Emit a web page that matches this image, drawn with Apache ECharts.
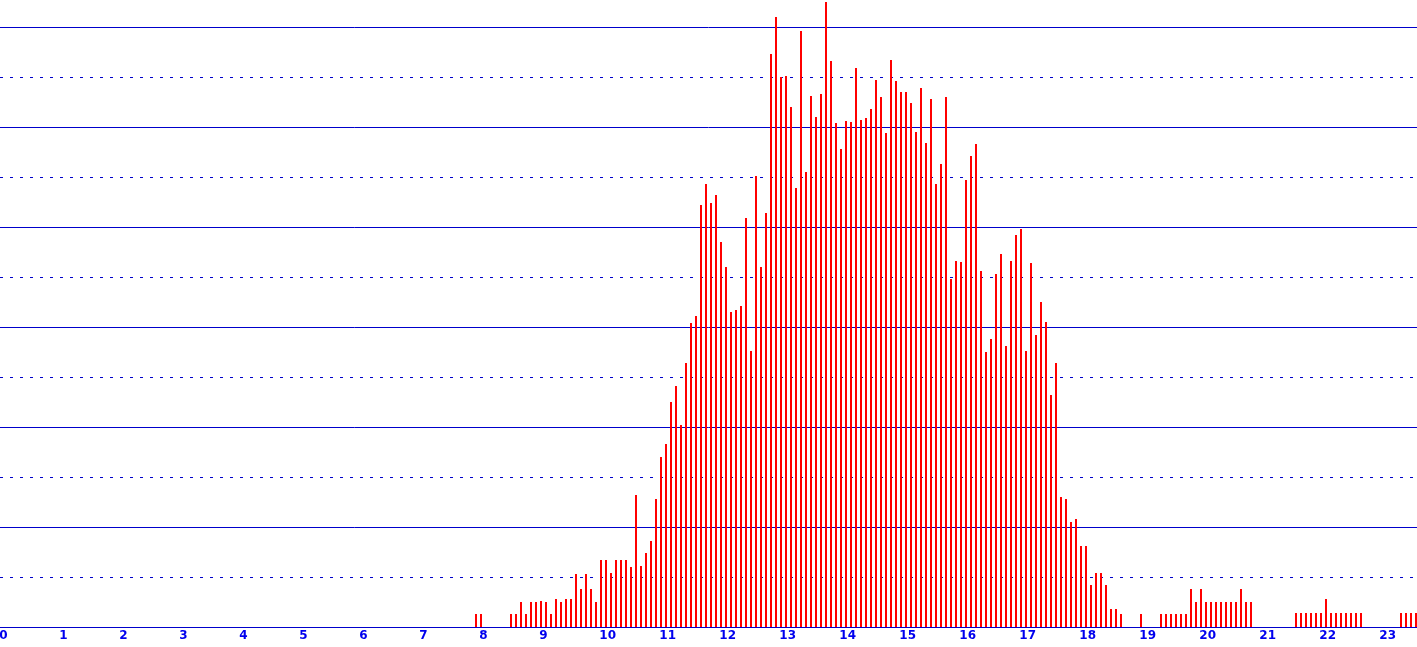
<!DOCTYPE html>
<html>
<head>
<meta charset="utf-8">
<script src="https://cdn.jsdelivr.net/npm/echarts@6/dist/echarts.min.js"></script>
<style>
html,body{margin:0;padding:0;background:#fff;}
#chart{width:1417px;height:647px;}
</style>
</head>
<body>
<div id="chart"></div>
<script>
// Histogram: bin width 1/12, first bin index 94 (x = 94/12)
const binWidth = 1 / 12;
const firstBin = 94;
const counts = [
  13, 13, 0, 0, 0, 0, 0, 13, 13, 25, 13, 25, 25, 26, 25, 13,            // 94-109
  28, 25, 28, 28, 53, 38, 53, 38, 25, 67, 67, 54, 67, 67, 67, 60,       // 110-125
  132, 61, 74, 86, 128, 170, 183, 225, 241, 202, 264, 304, 311, 422,    // 126-139
  443, 424, 432, 385, 360, 315, 317, 321, 409, 276, 451, 360, 414, 573, // 140-153
  610, 550, 551, 520, 439, 596, 455, 531, 510, 533, 625, 566, 504, 478, // 154-167
  506, 505, 559, 507, 509, 518, 547, 530, 494, 567, 546, 535, 535, 524, // 168-181
  495, 539, 484, 528, 443, 463, 530, 348, 366, 365, 447, 471, 483, 356, // 182-195
  275, 288, 353, 373, 281, 366, 392, 398, 276, 364, 292, 325, 305, 232, // 196-209
  264, 130, 128, 105, 108, 81, 81, 42, 54, 54, 42, 18, 18, 13,          // 210-223
  0, 0, 0, 13, 0, 0, 0, 13, 13, 13, 13, 13, 13, 38, 25, 38,             // 224-239
  25, 25, 25, 25, 25, 25, 25, 38, 25, 25, 0, 0, 0, 0, 0, 0,             // 240-255
  0, 0, 14, 14, 14, 14, 14, 14, 28, 14, 14, 14, 14, 14, 14, 14,         // 256-271
  0, 0, 0, 0, 0, 0, 0, 14, 14, 14, 14                                   // 272-282
];
const xTickLabels = ['0','1','2','3','4','5','6','7','8','9','10','11','12','13','14','15','16','17','18','19','20','21','22','23'];

const data = [];
counts.forEach((c, i) => {
  if (c > 0) data.push([(firstBin + i + 0.5) * binWidth, c]);
});

const lineColor = '#0000cc';
const labelColor = '#0000ee';

const chart = echarts.init(document.getElementById('chart'), null, {renderer: 'canvas'});
chart.setOption({
  animation: false,
  backgroundColor: '#ffffff',
  grid: {left: 0, right: 0, top: 27, bottom: 20, containLabel: false, outerBoundsMode: 'none'},
  xAxis: {
    type: 'value',
    min: -3.5 / 60,
    max: (1417 - 3.5) / 60,
    splitNumber: 24,
    axisLine: {show: true, lineStyle: {color: lineColor, width: 1}},
    axisTick: {show: false},
    splitLine: {show: false},
    axisLabel: {
      show: true,
      showMinLabel: false,
      showMaxLabel: false,
      hideOverlap: false,
      margin: 3,
      color: labelColor,
      fontFamily: 'DejaVu Sans',
      fontWeight: 'bold',
      fontSize: 12,
      align: 'center',
      formatter: function (v) {
        const idx = Math.round(v);
        if (Math.abs(v - idx) > 1e-6) return '';
        const t = xTickLabels[idx];
        if (t === undefined) return '';
        return t.length > 1 ? '\u2007' + t : t;
      }
    }
  },
  yAxis: [
    {
      type: 'value', min: 0, max: 600, interval: 100,
      axisLine: {show: false}, axisTick: {show: false}, axisLabel: {show: false},
      splitLine: {show: true, lineStyle: {color: lineColor, width: 1, type: 'solid'}}
    },
    {
      type: 'value', min: 0, max: 600, interval: 50,
      axisLine: {show: false}, axisTick: {show: false}, axisLabel: {show: false},
      splitLine: {show: true, lineStyle: {color: lineColor, width: 1, type: [3, 7]}}
    }
  ],
  series: [{
    type: 'bar',
    xAxisIndex: 0,
    yAxisIndex: 0,
    data: data,
    barWidth: 2,
    clip: false,
    itemStyle: {color: '#ff0000'},
    z: 5
  }]
});
</script>
</body>
</html>
